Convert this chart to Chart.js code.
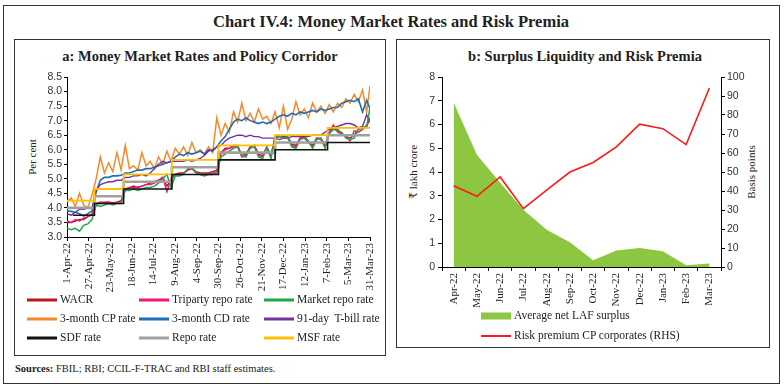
<!DOCTYPE html>
<html><head><meta charset="utf-8">
<script src="https://cdn.jsdelivr.net/npm/chart.js@4.4.1/dist/chart.umd.min.js"></script>
<style>
body{margin:0;width:784px;height:386px;background:#fff;position:relative;overflow:hidden;font-family:"Liberation Serif","DejaVu Serif",serif;color:#222;}
.box{position:absolute;border:1px solid #333;box-sizing:border-box;}
.c{position:absolute;white-space:nowrap;transform:translate(-50%,-50%);line-height:1;}
.l{position:absolute;white-space:nowrap;transform:translateY(-50%);line-height:1;}
.r{position:absolute;white-space:nowrap;transform:translate(-50%,-50%) rotate(-90deg);line-height:1;}
.sw{position:absolute;height:3px;width:30px;transform:translateY(-50%);}
canvas{position:absolute;}
</style></head><body>
<div class="box" style="left:3px;top:5px;width:777px;height:379px;"></div>
<div class="box" style="left:14px;top:39px;width:372px;height:317px;"></div>
<div class="box" style="left:396px;top:39px;width:374px;height:309px;"></div>

<div class="c" style="left:391px;top:22px;font-size:16.5px;font-weight:bold;">Chart IV.4: Money Market Rates and Risk Premia</div>
<div class="c" style="left:200px;top:56px;font-size:14.5px;font-weight:bold;">a: Money Market Rates and Policy Corridor</div>
<div class="c" style="left:585px;top:56px;font-size:14.5px;font-weight:bold;">b: Surplus Liquidity and Risk Premia</div>

<div class="r" style="left:32px;top:157px;font-size:11px;">Per cent</div>
<div class="r" style="left:413px;top:172px;font-size:11px;">₹ lakh crore</div>
<div class="r" style="left:751px;top:172px;font-size:11px;">Basis points</div>

<canvas id="cl" width="372" height="232" style="left:14px;top:62px;"></canvas>
<canvas id="cr" width="376" height="250" style="left:397px;top:62px;"></canvas>

<div id="legL"></div>
<div class="sw" style="left:481px;top:316px;height:7px;background:#8dc641;"></div>
<div class="l" style="left:514px;top:316px;font-size:11.5px;">Average net LAF surplus</div>
<div class="sw" style="left:481px;top:336px;background:#ff1a1a;height:2px;"></div>
<div class="l" style="left:514px;top:336px;font-size:11.5px;">Risk premium CP corporates (RHS)</div>

<div class="l" style="left:15px;top:369px;font-size:10.5px;"><b>Sources:</b> FBIL; RBI; CCIL-F-TRAC and RBI staff estimates.</div>

<script>
// ---------- Panel a data (day index from 1-Apr-22) ----------
const tickDays = [0,26,52,78,104,130,156,182,208,234,260,286,312,338,364];
const tickLabels = ['1-Apr-22','27-Apr-22','23-May-22','18-Jun-22','14-Jul-22','9-Aug-22','4-Sep-22','30-Sep-22','26-Oct-22','21-Nov-22','17-Dec-22','12-Jan-23','7-Feb-23','5-Mar-23','31-Mar-23'];
const yTicksL = [3.0,3.5,4.0,4.5,5.0,5.5,6.0,6.5,7.0,7.5,8.0,8.5];
const sampleDays = [0,5,10,15,20,25,30,35,40,45,50,55,60,65,70,75,80,85,90,95,100,105,110,115,120,125,130,135,140,145,150,155,160,165,170,175,180,185,190,195,200,205,210,215,220,225,230,235,240,245,250,255,260,265,270,275,280,285,290,295,300,305,310,315,320,325,330,335,340,345,350,355,360,364];
const wacr = [3.50,3.50,3.55,3.60,3.60,3.70,3.80,4.15,4.20,4.20, 4.20,4.18,4.20,4.25,4.65,4.70,4.75,4.70,4.75,4.80, 4.85,4.90,4.95,5.05,4.75,4.95,5.15,5.20,5.20,5.30, 5.35,5.25,5.20,5.20,5.20,5.25,5.30,5.90,6.05,6.05, 6.15,6.15,5.80,5.85,6.10,6.15,5.85,5.80,6.10,5.80, 6.45,6.50,6.45,6.45,6.20,6.15,6.40,6.45,6.30,6.15, 6.40,6.40,6.15,6.60,6.75,6.70,6.55,6.45,6.40,6.50, 6.70,6.75,6.80,7.10];
const triparty = [3.55,3.50,3.60,3.55,3.65,3.70,3.75,4.15,4.15,4.18, 4.20,4.15,4.20,4.20,4.65,4.70,4.70,4.72,4.75,4.80, 4.80,4.85,4.95,5.05,4.55,5.00,5.15,5.15,5.18,5.30, 5.35,5.20,5.15,5.15,5.18,5.20,5.25,5.85,6.00,6.05, 6.10,6.10,5.75,5.80,6.10,6.15,5.80,5.75,6.05,5.75, 6.45,6.45,6.42,6.40,6.15,6.10,6.40,6.40,6.25,6.10, 6.40,6.35,6.10,6.60,6.85,6.60,6.55,6.45,6.30,6.65, 6.60,6.70,6.85,7.05];
const marketRepo = [3.30,3.25,3.30,3.20,3.40,3.45,3.60,4.10,4.05,4.10, 4.15,4.10,4.15,4.15,4.60,4.60,4.65,4.60,4.65,4.70, 4.70,4.75,4.85,5.00,5.15,4.70,5.10,5.10,5.15,5.35, 5.40,5.20,5.15,5.10,5.15,5.15,5.20,5.75,5.85,5.95, 6.05,6.10,5.80,5.75,6.05,6.10,5.75,5.70,6.10,5.70, 6.40,6.45,6.40,6.45,6.10,6.05,6.35,6.40,6.30,6.05, 6.35,6.40,6.05,6.55,6.70,6.65,6.60,6.40,6.35,6.40, 6.70,6.75,6.80,7.45];
const cpRate = [4.20,4.35,4.05,4.50,4.10,4.00,4.45,5.00,5.75,5.20, 5.55,5.25,5.90,5.30,6.15,5.35,5.45,5.30,5.90,5.45, 5.60,5.35,5.75,5.50,5.95,5.60,6.05,5.85,6.10,5.80, 6.25,5.90,6.00,5.85,6.10,5.90,7.10,6.50,6.90,6.60, 7.30,6.95,7.60,7.00,7.25,6.95,7.40,7.05,7.15,6.90, 7.30,6.75,7.50,6.70,7.05,7.65,7.20,7.40,7.10,7.60, 7.30,7.50,7.25,7.55,7.30,7.60,7.45,7.75,7.60,7.90, 7.65,8.05,7.30,8.20];
const cdRate = [3.90,3.88,3.85,3.80,3.72,3.80,3.90,4.55,4.95,5.05, 5.05,5.10,5.10,5.12,5.20,5.20,5.25,5.30,5.30,5.35, 5.35,5.40,5.45,5.50,5.55,5.60,5.75,5.85,5.80,5.90, 5.85,5.90,5.95,5.85,6.00,5.95,6.10,6.30,6.45,6.70, 6.95,7.05,7.00,7.10,7.00,6.95,6.90,6.95,6.90,6.95, 7.05,7.15,7.20,7.15,7.25,7.20,7.30,7.25,7.30,7.35, 7.30,7.40,7.35,7.40,7.45,7.45,7.60,7.65,7.70,7.65, 7.75,7.30,7.70,7.40];
const tbillRate = [3.80,3.75,3.85,3.95,3.95,4.00,4.00,4.60,4.80,4.85, 4.90,4.90,4.95,4.95,5.05,5.05,5.10,5.10,5.15,5.10, 5.20,5.35,5.50,5.60,5.55,5.60,5.60,5.60,5.60,5.65, 5.60,5.65,5.70,5.80,5.95,6.00,6.10,6.15,6.30,6.40, 6.45,6.50,6.50,6.45,6.50,6.45,6.45,6.40,6.40,6.40, 6.40,6.35,6.40,6.40,6.45,6.45,6.45,6.45,6.45,6.50, 6.50,6.50,6.60,6.70,6.75,6.80,6.85,6.90,6.90,6.85, 6.75,6.80,7.20,6.95];
// policy corridor: change days and rates
const policyDays = [0,7,33,68,126,182,250,313,364];
const sdfRate  = [null,3.75,4.15,4.65,5.15,5.65,6.00,6.25,6.25];
const repoRate = [4.00,4.00,4.40,4.90,5.40,5.90,6.25,6.50,6.50];
const msfRate  = [4.25,4.25,4.65,5.15,5.65,6.15,6.50,6.75,6.75];

// ---------- Panel b data ----------
const months = ['Apr-22','May-22','Jun-22','Jul-22','Aug-22','Sep-22','Oct-22','Nov-22','Dec-22','Jan-23','Feb-23','Mar-23'];
const lafSurplus = [6.93,4.73,3.55,2.41,1.57,1.04,0.28,0.69,0.80,0.66,0.07,0.15];
const riskPremium = [42.8,37.2,47.4,30.7,40.5,50.0,55.0,63.2,75.2,72.8,64.4,94.2];

// ---------- Legend (panel a) ----------
const legendItems = [
  ['WACR','#c0141c'],['Triparty repo rate','#f0157f'],['Market repo rate','#1fa84a'],
  ['3-month CP rate','#f7892b'],['3-month CD rate','#1f6db5'],['91-day  T-bill rate','#7232a0'],
  ['SDF rate','#111111'],['Repo rate','#a0a0a0'],['MSF rate','#ffc000']];
const colX = [27,139,264], rowY = [300,319,338];
let lh = '';
legendItems.forEach((it,i)=>{
  const cx = colX[i%3], cy = rowY[Math.floor(i/3)];
  lh += `<div class="sw" style="left:${cx}px;top:${cy}px;background:${it[1]}"></div>`;
  lh += `<div class="l" style="left:${cx+33}px;top:${cy}px;font-size:11.5px;white-space:pre">${it[0]}</div>`;
});
document.getElementById('legL').innerHTML = lh;

const pts = arr => sampleDays.map((d,i)=>({x:d,y:arr[i]}));
const ppts = arr => policyDays.map((d,i)=>({x:d,y:arr[i]}));
const tickFontSans = {family:'Liberation Sans', size:10.5};
const serif11 = {family:'Liberation Serif', size:11};

const line = (data,color,w,extra) => Object.assign({data, borderColor:color, borderWidth:w, pointRadius:0, fill:false, tension:0}, extra||{});

new Chart(document.getElementById('cl'), {
  type:'line',
  data:{datasets:[
    line(ppts(sdfRate),'#111111',1.6,{stepped:'before'}),
    line(ppts(msfRate),'#ffc000',1.8,{stepped:'before'}),
    line(ppts(repoRate),'#a0a0a0',2.6,{stepped:'before'}),
    line(pts(marketRepo),'#1fa84a',1.5),
    line(pts(triparty),'#f0157f',1.4),
    line(pts(wacr),'#c0141c',1.4),
    line(pts(tbillRate),'#7232a0',1.4),
    line(pts(cdRate),'#1f6db5',1.6),
    line(pts(cpRate),'#f7892b',1.5)
  ]},
  options:{
    responsive:false, animation:false,
    layout:{padding:{left:0,right:16,top:15,bottom:0}},
    plugins:{legend:{display:false},tooltip:{enabled:false}},
    scales:{
      x:{type:'linear',min:0,max:364,
        afterBuildTicks:s=>{s.ticks = tickDays.map(v=>({value:v}));},
        afterFit:s=>{s.height=57;},
        ticks:{autoSkip:false,minRotation:90,maxRotation:90,font:serif11,color:'#222',padding:2,
          callback:(v,i)=>tickLabels[i]},
        grid:{drawOnChartArea:false,drawTicks:true,tickLength:4,color:'#000'},
        border:{color:'#000',width:1}},
      y:{min:3,max:8.5,
        afterBuildTicks:s=>{s.ticks = yTicksL.map(v=>({value:v}));},
        afterFit:s=>{s.width=53;},
        ticks:{autoSkip:false,font:tickFontSans,color:'#333',padding:2,callback:(v,i)=>yTicksL[i].toFixed(1)},
        grid:{drawOnChartArea:false,drawTicks:true,tickLength:3,color:'#000'},
        border:{color:'#000',width:1}}
    }
  }
});

new Chart(document.getElementById('cr'), {
  type:'line',
  data:{labels:months, datasets:[
    {data:riskPremium,yAxisID:'y1',borderColor:'#ff1a1a',borderWidth:1.6,pointRadius:0,fill:false,tension:0},
    {data:lafSurplus,yAxisID:'y',backgroundColor:'#8dc641',borderColor:'rgba(0,0,0,0)',borderWidth:0,pointRadius:0,fill:'origin',tension:0}
  ]},
  options:{
    responsive:false, animation:false,
    layout:{padding:{left:0,right:0,top:15,bottom:0}},
    plugins:{legend:{display:false},tooltip:{enabled:false}},
    scales:{
      x:{offset:true,
        afterFit:s=>{s.height=45;},
        ticks:{autoSkip:false,minRotation:90,maxRotation:90,font:serif11,color:'#222',padding:2},
        grid:{offset:true,drawOnChartArea:false,drawTicks:true,tickLength:4,color:'#000'},
        border:{color:'#000',width:1}},
      y:{position:'left',min:0,max:8,
        afterFit:s=>{s.width=45;},
        ticks:{autoSkip:false,stepSize:1,font:tickFontSans,color:'#333',padding:3},
        grid:{drawOnChartArea:false,drawTicks:true,tickLength:4,color:'#000'},
        border:{color:'#000',width:1}},
      y1:{position:'right',min:0,max:100,
        afterFit:s=>{s.width=52;},
        ticks:{autoSkip:false,stepSize:10,font:tickFontSans,color:'#333',padding:2},
        grid:{drawOnChartArea:false,drawTicks:true,tickLength:4,color:'#000'},
        border:{color:'#000',width:1}}
    }
  }
});
</script>
</body></html>
